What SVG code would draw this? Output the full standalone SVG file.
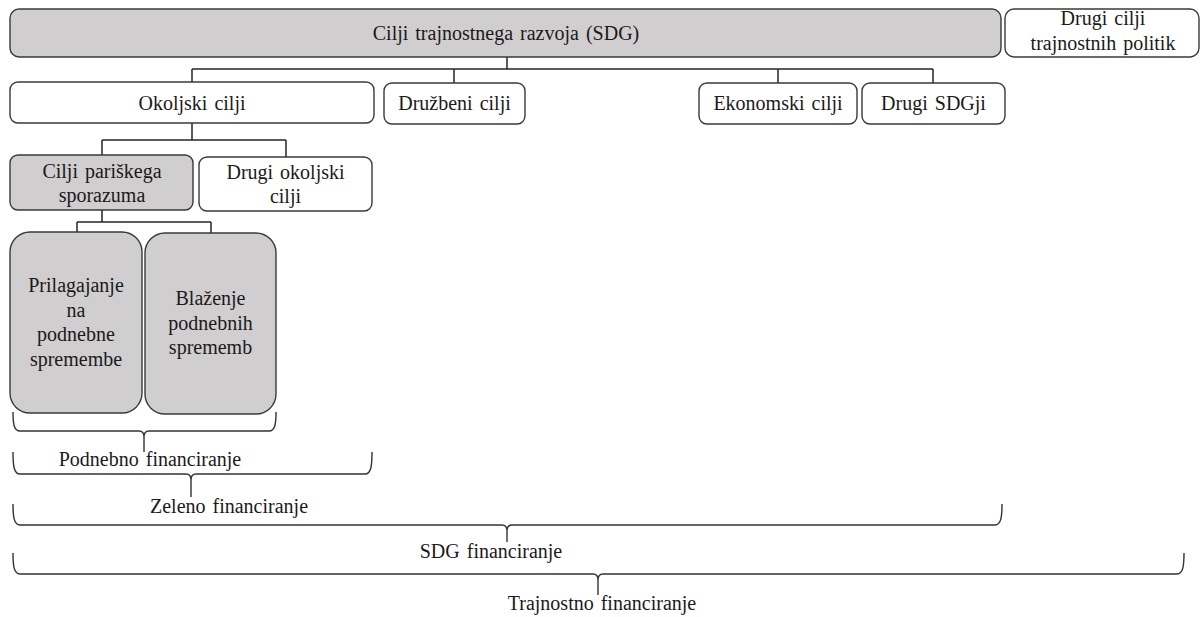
<svg xmlns="http://www.w3.org/2000/svg" width="1201" height="617" viewBox="0 0 1201 617">
<style>
.box{fill:#ffffff;stroke:#3a3a3a;stroke-width:1.4}
.grey{fill:#d0cece;stroke:#3a3a3a;stroke-width:1.4}
.t{font-family:"Liberation Serif","Times New Roman",serif;font-size:20px;fill:#1a1a1a;text-anchor:middle;word-spacing:2px}
.ln{fill:none;stroke:#262626;stroke-width:1.5}
.br{fill:none;stroke:#333333;stroke-width:1.4}
</style>
<rect x="0" y="0" width="1201" height="617" fill="#ffffff"/>
<g id="connectors">
<path class="ln" d="M507,57 V69 M192,69 H933 M192,69 V82 M454,69 V83 M778,69 V83 M933,69 V83"/>
<path class="ln" d="M192,123 V140 M102,140 H286 M102,140 V155 M286,140 V157"/>
<path class="ln" d="M102,210 V222 M77,222 H211 M77,222 V232 M211,222 V233"/>
</g>
<g id="n-sdg"><rect class="grey" x="10" y="9" width="991" height="48" rx="9"/><text class="t" x="506" y="40">Cilji trajnostnega razvoja (SDG)</text></g>
<g id="n-drugi-politik"><rect class="box" x="1005" y="9" width="194" height="48" rx="9"/><text class="t" x="1103" y="25">Drugi cilji</text><text class="t" x="1103" y="50">trajnostnih politik</text></g>
<g id="n-okoljski"><rect class="box" x="10" y="82" width="364" height="41" rx="8"/><text class="t" x="192" y="110">Okoljski cilji</text></g>
<g id="n-druzbeni"><rect class="box" x="384" y="83" width="141" height="41" rx="8"/><text class="t" x="454.5" y="110">Družbeni cilji</text></g>
<g id="n-ekonomski"><rect class="box" x="699" y="83" width="158" height="41" rx="8"/><text class="t" x="778" y="110">Ekonomski cilji</text></g>
<g id="n-drugi-sdg"><rect class="box" x="862" y="83" width="143" height="41" rx="8"/><text class="t" x="933.5" y="110">Drugi SDGji</text></g>
<g id="n-pariski"><rect class="grey" x="10" y="155" width="183" height="55" rx="8"/><text class="t" x="102" y="178">Cilji pariškega</text><text class="t" x="102" y="202">sporazuma</text></g>
<g id="n-drugi-okoljski"><rect class="box" x="199" y="157" width="173" height="54" rx="8"/><text class="t" x="285.5" y="179">Drugi okoljski</text><text class="t" x="285.5" y="203">cilji</text></g>
<g id="n-prilagajanje"><rect class="grey" x="10" y="232" width="132" height="181" rx="20"/><text class="t" x="76" y="292">Prilagajanje</text><text class="t" x="76" y="317">na</text><text class="t" x="76" y="341">podnebne</text><text class="t" x="76" y="366">spremembe</text></g>
<g id="n-blazenje"><rect class="grey" x="145" y="233" width="131" height="181" rx="20"/><text class="t" x="210.5" y="305">Blaženje</text><text class="t" x="210.5" y="330">podnebnih</text><text class="t" x="210.5" y="354">sprememb</text></g>
<g id="brackets">
<path class="br" d="M13,412 C13,424 14,431 20,431 H139 Q144,431 144,437 V452 M144,437 Q144,431 149,431 H269 C275,431 276,424 276,412"/>
<path class="br" d="M13,452 C13,466 14,474 20,474 H186 Q191,474 191,480 V497 M191,480 Q191,474 196,474 H365 C371,474 372,466 372,452"/>
<path class="br" d="M13,504 C13,517 14,525 20,525 H502 Q507,525 507,531 V542 M507,531 Q507,525 512,525 H995 C1001,525 1002,517 1002,504"/>
<path class="br" d="M13,553 C13,566 14,574 20,574 H593 Q598,574 598,580 V595 M598,580 Q598,574 603,574 H1177 C1183,574 1184,566 1184,553"/>
</g>
<g id="labels">
<text class="t" x="150" y="466">Podnebno financiranje</text>
<text class="t" x="229" y="513">Zeleno financiranje</text>
<text class="t" x="491" y="558">SDG financiranje</text>
<text class="t" x="602" y="610">Trajnostno financiranje</text>
</g>
</svg>
